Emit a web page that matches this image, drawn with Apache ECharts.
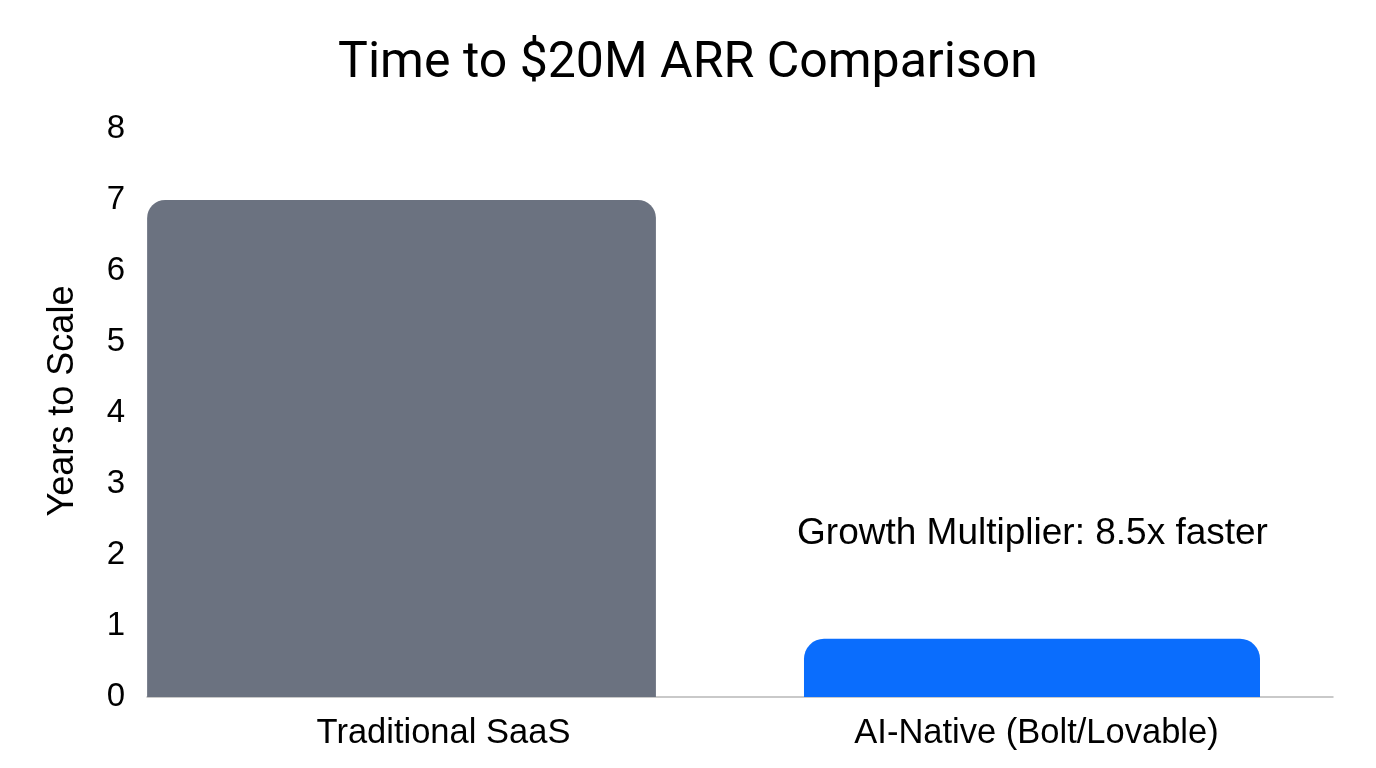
<!DOCTYPE html>
<html>
<head>
<meta charset="utf-8">
<script src="https://cdn.jsdelivr.net/npm/echarts@6/dist/echarts.min.js"></script>
<style>
html,body{margin:0;padding:0;background:#fff;}
#chart{width:1376px;height:768px;}
</style>
</head>
<body>
<div id="chart"></div>
<script>
const categories = ['Traditional SaaS', 'AI-Native (Bolt/Lovable)'];
const yearsToScale = [7, 0.82];
const yTicks = [0, 1, 2, 3, 4, 5, 6, 7, 8];
const annotationText = 'Growth Multiplier: 8.5x faster';
const annotationAt = [1, 2.3];

const barColors = ['#6b7280', '#0a6dfd'];
const barLayout = [
  { w: 0.858, off: -0.0708, r: 18 },
  { w: 0.769, off: -0.0076, r: 20 }
];
const labelFont = '"Liberation Sans", Arial, sans-serif';

const chart = echarts.init(document.getElementById('chart'));
chart.setOption({
  backgroundColor: '#ffffff',
  animation: false,
  title: {
    text: 'Time to $20M ARR Comparison',
    left: 'center',
    top: 34,
    textStyle: { fontFamily: 'Roboto', fontSize: 50, fontWeight: 'normal', color: '#000' }
  },
  grid: { left: 147, right: 43, top: 129, bottom: 71 },
  xAxis: {
    type: 'category',
    data: categories,
    axisLine: { show: true, lineStyle: { color: '#b8b8b8', width: 1.5 } },
    axisTick: { show: false },
    axisLabel: { fontFamily: labelFont, fontSize: 34.5, color: '#000', margin: 19 }
  },
  yAxis: {
    type: 'value',
    min: yTicks[0],
    max: yTicks[yTicks.length - 1],
    interval: 1,
    name: 'Years to Scale',
    nameLocation: 'middle',
    nameGap: 66,
    nameTextStyle: { fontFamily: labelFont, fontSize: 36, color: '#000', padding: [0, 0, 0, 24] },
    axisLine: { show: false },
    axisTick: { show: false },
    splitLine: { show: false },
    axisLabel: { fontFamily: labelFont, fontSize: 33, color: '#000', margin: 22 }
  },
  series: [{
    type: 'custom',
    data: categories.map((c, i) => [i, yearsToScale[i]]),
    renderItem: function (params, api) {
      const i = params.dataIndex;
      const c = api.value(0), v = api.value(1);
      const base = api.coord([c, 0]);
      const top = api.coord([c, v]);
      const band = api.size([1, 0])[0];
      const L = barLayout[i];
      const w = band * L.w;
      const x = base[0] + band * L.off - w / 2;
      return {
        type: 'rect',
        shape: { x: x, y: top[1], width: w, height: base[1] - top[1], r: [L.r, L.r, 0, 0] },
        style: { fill: barColors[i] }
      };
    }
  }]
});
const p = chart.convertToPixel({ gridIndex: 0 }, annotationAt);
chart.setOption({
  graphic: [{
    type: 'text',
    x: p[0] - 4,
    y: p[1],
    style: {
      text: annotationText,
      fontFamily: labelFont,
      fontSize: 37,
      fill: '#000',
      align: 'center',
      verticalAlign: 'middle'
    }
  }]
});
</script>
</body>
</html>
